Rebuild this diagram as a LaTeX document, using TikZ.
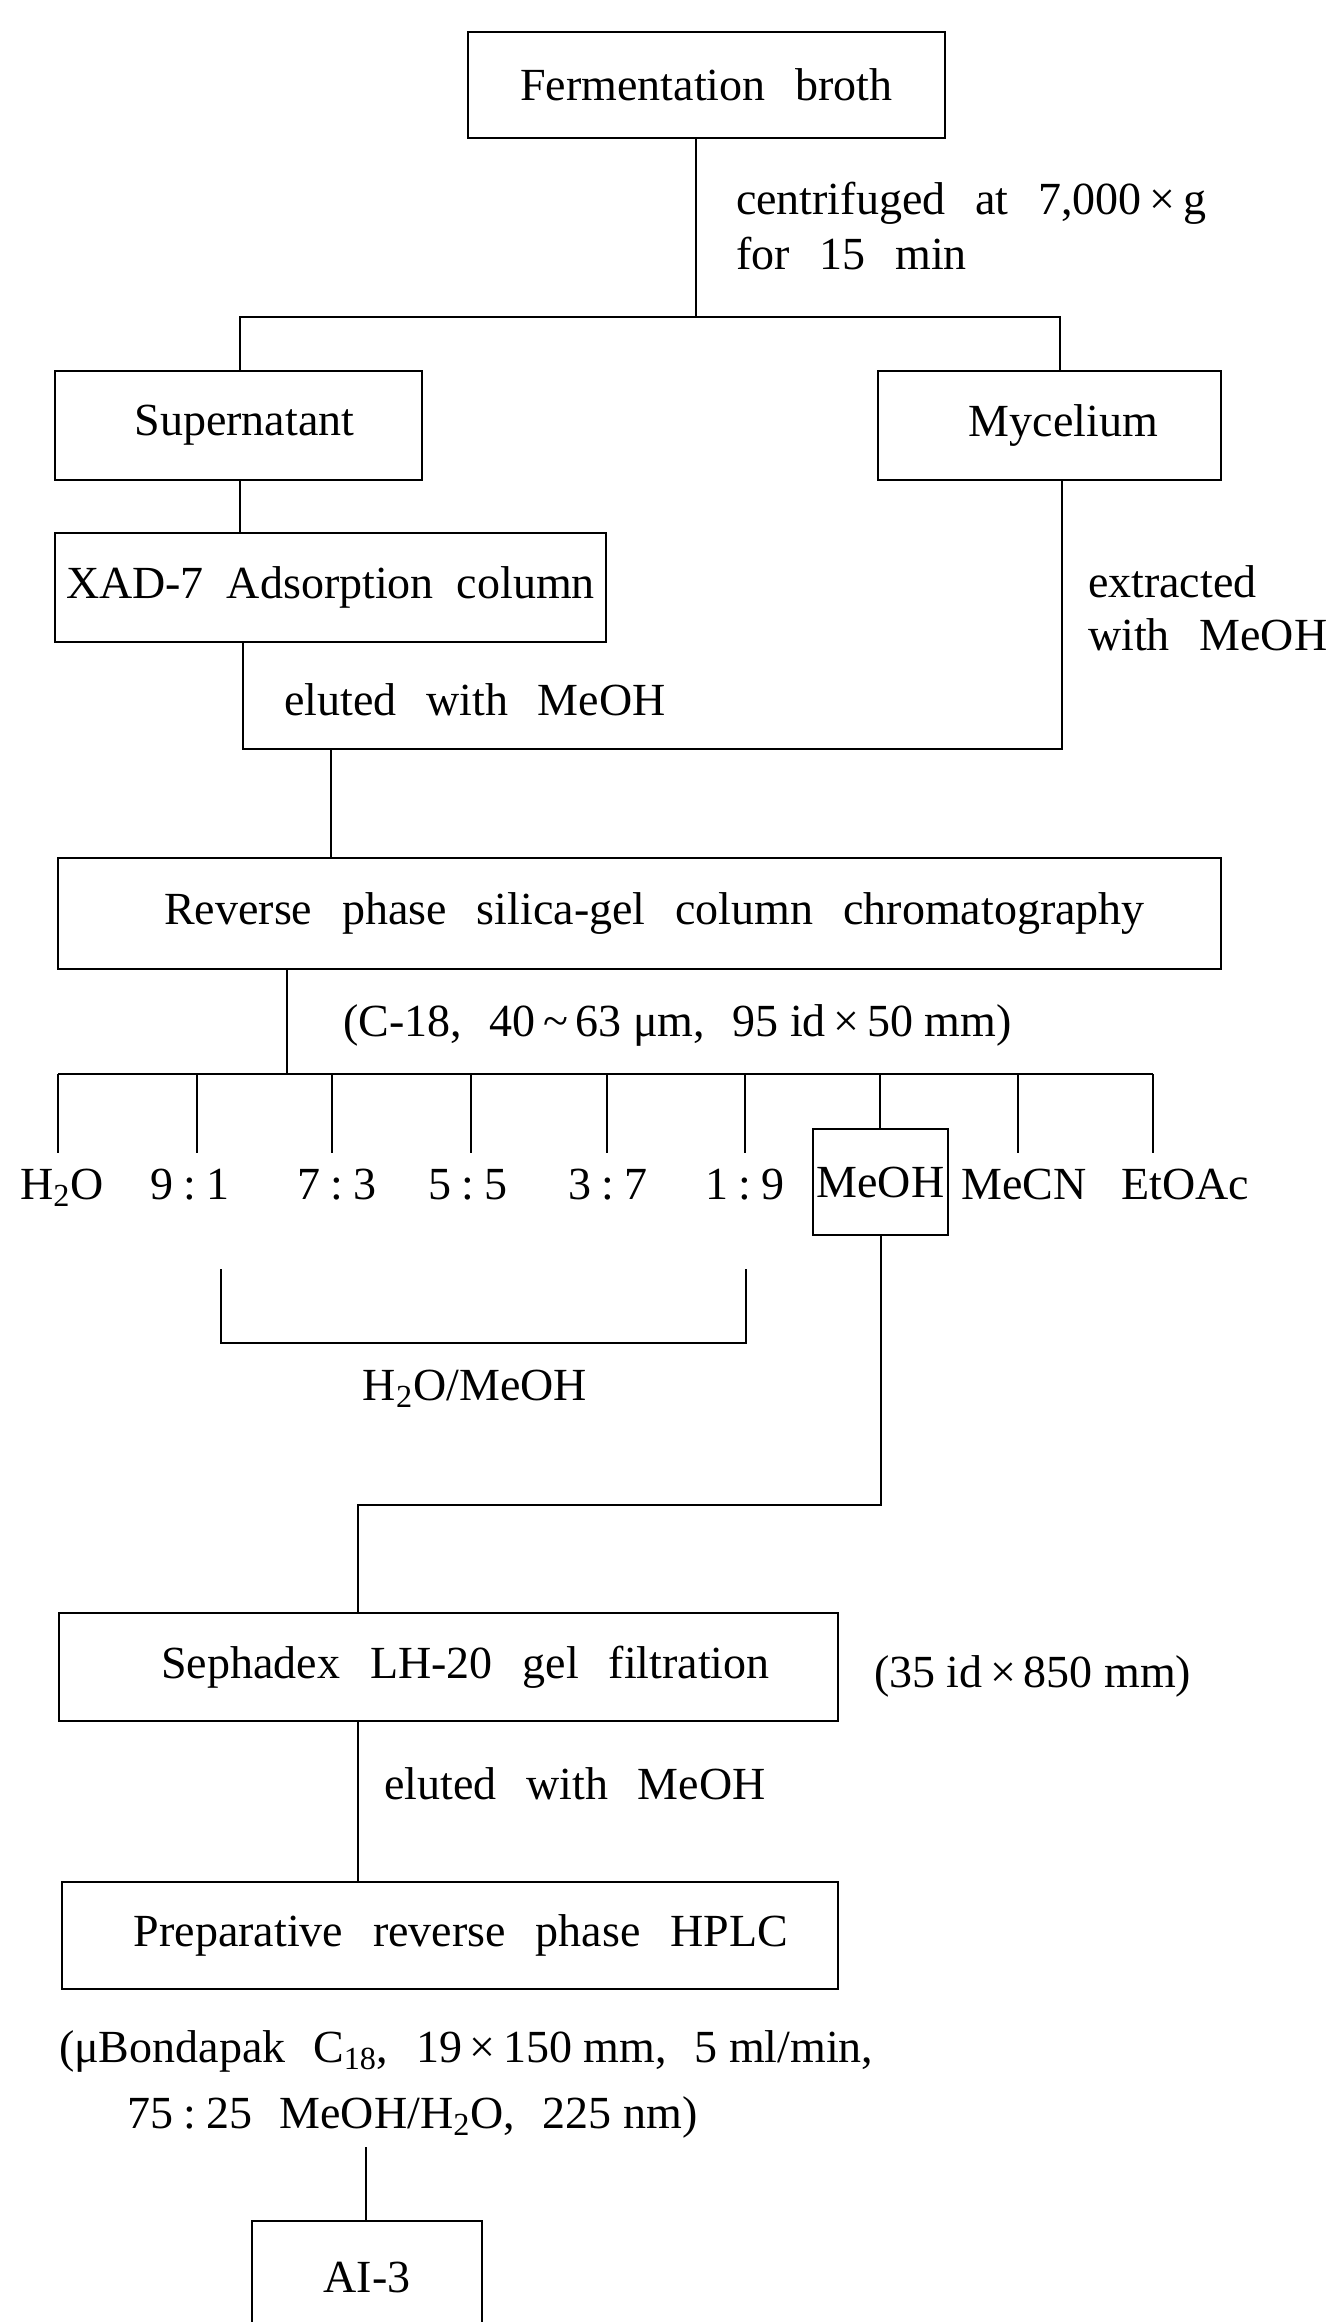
\documentclass[tikz,border=0pt]{standalone}
\usepackage{fontspec}
\setmainfont{Liberation Serif}
\newcommand{\wsp}{\spaceskip=0.65em\relax}
\newcommand{\nsp}{\spaceskip=0.25em\relax}
\newcommand{\msp}{\spaceskip=0.5em\relax}
\newcommand{\basefont}{\fontsize{23bp}{27bp}\selectfont\wsp}
\newcommand{\rt}[2]{#1\hspace{0.22em}:\hspace{0.22em}#2}
\begin{document}
\begin{tikzpicture}[x=0.5bp,y=-0.5bp,
  every node/.style={inner sep=0pt,outer sep=0pt,font=\basefont},
  box/.style={draw,line width=1bp,align=center},
  lbl/.style={anchor=base west},
  clbl/.style={anchor=base},
  conn/.style={line width=1bp}]
\fill[white] (0,0) rectangle (1330,2322);
\useasboundingbox (0,0) rectangle (1330,2322);

% boxes
\node[box,minimum width=238.5bp,minimum height=53bp] (ferm) at (706.5,85) {Fermentation broth};
\node[box,minimum width=183.5bp,minimum height=54.5bp] (super) at (238.5,425.5) {\hspace*{6bp}Supernatant};
\node[box,minimum width=171.5bp,minimum height=54.5bp] (myc) at (1049.5,425.5) {\hspace*{14bp}Mycelium};
\node[box,minimum width=275.5bp,minimum height=54.5bp] (xad) at (330.5,587.5) {\msp XAD-7 Adsorption column};
\node[box,minimum width=581.5bp,minimum height=55.5bp] (rev) at (639.5,913.5) {\hspace*{15bp}Reverse phase silica-gel column chromatography};
\node[box,minimum width=67.5bp,minimum height=53bp] (meoh) at (880.5,1182) {MeOH};
\node[box,minimum width=389.5bp,minimum height=54bp] (seph) at (448.5,1667) {\hspace*{17bp}Sephadex LH-20 gel filtration};
\node[box,minimum width=388bp,minimum height=53.5bp] (prep) at (450,1935.5) {\hspace*{11bp}Preparative reverse phase HPLC};
\node[box,minimum width=115bp,minimum height=56bp] (ai3) at (367,2277) {AI-3};

% labels
\node[lbl] (cent1) at (736,214) {centrifuged at 7,000\,×\,g};
\node[lbl] (cent2) at (736,269) {for 15 min};
\node[lbl] (ext1) at (1088,597) {extracted};
\node[lbl] (ext2) at (1088,650) {with MeOH};
\node[lbl] (elu1) at (284,715) {eluted with MeOH};
\node[lbl] (c18) at (343,1036) {\nsp(C-18,\hspace{0.6em}40\,\textasciitilde\,63 μm,\hspace{0.6em}95 id\,×\,50 mm)};
\node[clbl] (l1) at (62,1199) {H\textsubscript{2}O};
\node[clbl] (l2) at (190,1199) {\rt{9}{1}};
\node[clbl] (l3) at (337,1199) {\rt{7}{3}};
\node[clbl] (l4) at (468,1199) {\rt{5}{5}};
\node[clbl] (l5) at (608,1199) {\rt{3}{7}};
\node[clbl] (l6) at (745,1199) {\rt{1}{9}};
\node[clbl] (l8) at (1024,1199) {MeCN};
\node[clbl] (l9) at (1185,1199) {EtOAc};
\node[clbl] (mix) at (475,1400) {H\textsubscript{2}O/MeOH};
\node[lbl] (sdim) at (874,1687) {\nsp(35 id\,×\,850 mm)};
\node[lbl] (elu2) at (384,1799) {eluted with MeOH};
\node[lbl] (bond1) at (59,2062) {\nsp(μBondapak\hspace{0.6em}C\textsubscript{18},\hspace{0.6em}19\,×\,150 mm,\hspace{0.6em}5 ml/min,};
\node[lbl] (bond2) at (127,2128) {\nsp\rt{75}{25}\hspace{0.6em}MeOH/H\textsubscript{2}O,\hspace{0.6em}225 nm)};

% coordinates
\coordinate (s1) at (696,317);
\coordinate (bl) at (240,317);
\coordinate (br) at (1060,317);
\coordinate (m1) at (243,749);
\coordinate (m2) at (1062,749);
\coordinate (m3) at (331,749);
\coordinate (f0) at (287,1074);
\coordinate (fl) at (58,1074);
\coordinate (fr) at (1153,1074);
\coordinate (k2) at (358,1505);
\coordinate (q) at (366,2147);
\coordinate (b1) at (221,1269);
\coordinate (b2) at (221,1343);
\coordinate (b3) at (746,1343);
\coordinate (b4) at (746,1269);

% connectors
\draw[conn] (s1 |- ferm.south) -- (s1);
\draw[conn] (bl |- super.north) -- (bl) -- (br) -- (br |- myc.north);
\draw[conn] (bl |- super.south) -- (bl |- xad.north);
\draw[conn] (m1 |- xad.south) -- (m1) -- (m2) -- (m2 |- myc.south);
\draw[conn] (m3) -- (m3 |- rev.north);
\draw[conn] (f0 |- rev.south) -- (f0);
\draw[conn] (fl) -- (fr);
\foreach \x/\n in {58/1,197/2,332/3,471/4,607/5,745/6,1018/8,1153/9}{
  \coordinate (t\n) at (\x,1074);
  \coordinate (e\n) at (\x,1153);
  \draw[conn] (t\n) -- (e\n);
}
\coordinate (t7) at (880,1074);
\draw[conn] (t7) -- (t7 |- meoh.north);
\draw[conn] (b1) -- (b2) -- (b3) -- (b4);
\draw[conn] (meoh.south) -- (meoh.south |- k2) -- (k2) -- (k2 |- seph.north);
\draw[conn] (k2 |- seph.south) -- (k2 |- prep.north);
\draw[conn] (q) -- (q |- ai3.north);
\end{tikzpicture}
\end{document}
